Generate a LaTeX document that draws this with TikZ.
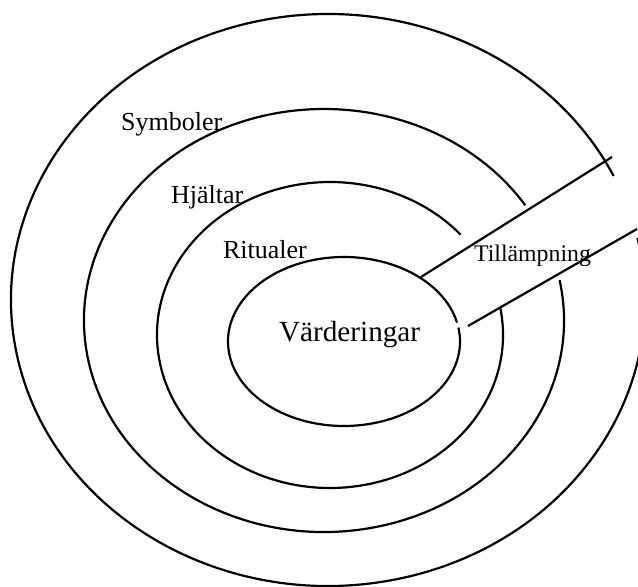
\documentclass[tikz,border=0pt]{standalone}
\usepackage{fontspec}
\setmainfont{Liberation Serif}
\begin{document}
\begin{tikzpicture}[x=.5pt,y=-.5pt,line width=1.1pt,
  ring/.style={line width=1.1pt},
  lbl/.style={anchor=base west,inner sep=0pt,font=\fontsize{13}{15}\selectfont}]
  \useasboundingbox (0,0) rectangle (638,587);
  \clip (0,0) rectangle (638,587);
  % rings, outer to inner, each left open for the band
  \draw[ring] (328,300) ++(-12.5:317 and 286) arc[start angle=-12.5,end angle=334.3,x radius=317,y radius=286];
  \draw[ring] (324,320.5) ++(-11:240 and 211.5) arc[start angle=-11,end angle=327,x radius=240,y radius=211.5];
  \draw[ring] (330,335) ++(-10.6:173 and 153) arc[start angle=-10.6,end angle=319,x radius=173,y radius=153];
  \draw[ring] (344,341.5) ++(-9.5:116 and 84.5) arc[start angle=-9.5,end angle=347.1,x radius=116,y radius=84.5];
  % band
  \coordinate (ua) at (421,277);
  \coordinate (ub) at (612,157);
  \coordinate (la) at (468,326);
  \coordinate (lb) at (637,229);
  \draw (ua) -- (ub);
  \draw (la) -- (lb);
  \node[lbl] (symb) at (120,131) {Symboler};
  \node[lbl] (hjal) at (170,204) {Hjältar};
  \node[lbl] (rit) at (222,259) {Ritualer};
  \node[lbl,font=\fontsize{14.6}{17}\selectfont] (vard) at (278,342) {Värderingar};
  \node[lbl,font=\fontsize{11.9}{14}\selectfont] (till) at (473,262) {Tillämpning};
\end{tikzpicture}
\end{document}
